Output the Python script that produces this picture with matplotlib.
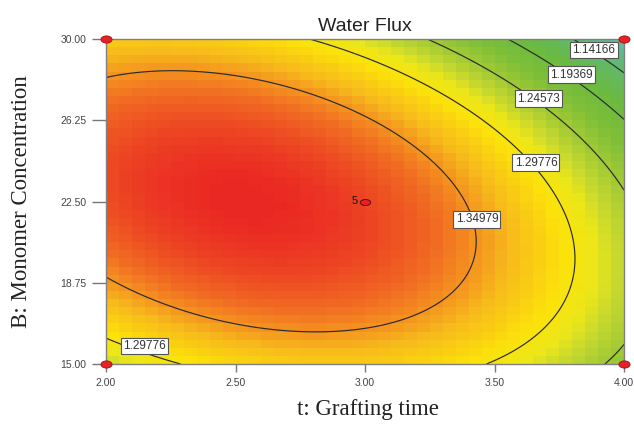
import numpy as np
import matplotlib
matplotlib.use("Agg")
import matplotlib.pyplot as plt
from matplotlib.colors import LinearSegmentedColormap
from matplotlib.path import Path
from matplotlib.transforms import Affine2D

# ---- data ----
title = "Water Flux"
x_label = "t: Grafting time"
y_label = "B: Monomer Concentration"
x_ticks = [2.00, 2.50, 3.00, 3.50, 4.00]
y_ticks = [15.00, 18.75, 22.50, 26.25, 30.00]
x_range = [2.0, 4.0]
y_range = [15.0, 30.0]
# quadratic response-surface coefficients (coded units: a=(t-3)/1, b=(B-22.5)/7.5)
# order: intercept, a, b, ab, a^2, b^2
coef = [1.38509, -0.06468, -0.02207, -0.04779, -0.06941, -0.08623]
contour_levels = [1.14166, 1.19369, 1.24573, 1.29776, 1.34979]
label_levels = [1.14166, 1.19369, 1.24573, 1.29776, 1.34979, 1.29776]
label_t = [3.884, 3.797, 3.668, 3.660, 3.432, 2.147]
label_B = [29.49, 28.36, 27.25, 24.30, 21.67, 15.83]
design_t = [2.0, 2.0, 4.0, 4.0]
design_B = [15.0, 30.0, 15.0, 30.0]
center_t = [3.0]
center_B = [22.5]
center_count = ["5"]

def model(t, B):
    a = (np.asarray(t) - 3.0) / 1.0
    b = (np.asarray(B) - 22.5) / 7.5
    return (coef[0] + coef[1]*a + coef[2]*b + coef[3]*a*b
            + coef[4]*a*a + coef[5]*b*b)

fig = plt.figure(figsize=(6.34, 4.25), dpi=100)
ax = fig.add_axes([106/634, 1-364/425, 518/634, 325/425])

# pixelated colour field
n = 40
te = np.linspace(x_range[0], x_range[1], n+1)
Be = np.linspace(y_range[0], y_range[1], n+1)
TC, BC = np.meshgrid((te[:-1]+te[1:])/2, (Be[:-1]+Be[1:])/2)
Zc = model(TC, BC)

anchors = [(1.09, (98, 190, 185)), (1.13, (95, 185, 120)), (1.18, (105, 185, 65)),
           (1.22, (128, 191, 55)), (1.25, (165, 203, 52)), (1.27, (200, 217, 46)),
           (1.285, (236, 230, 25)), (1.305, (252, 226, 10)), (1.335, (247, 185, 28)),
           (1.365, (241, 110, 34)), (1.40, (234, 40, 35))]
vmin, vmax = anchors[0][0], anchors[-1][0]
cmap = LinearSegmentedColormap.from_list(
    "dx", [((v-vmin)/(vmax-vmin), tuple(c/255 for c in col)) for v, col in anchors])
ax.pcolormesh(te, Be, Zc, cmap=cmap, vmin=vmin, vmax=vmax, shading='flat',
              rasterized=True, zorder=1)

# contour lines
tt, bb = np.meshgrid(np.linspace(x_range[0], x_range[1], 400),
                     np.linspace(y_range[0], y_range[1], 400))
ax.contour(tt, bb, model(tt, bb), levels=contour_levels, colors='#2b2b2b',
           linewidths=0.85, zorder=2)

# contour labels in white boxes
for lv, lt, lb in zip(label_levels, label_t, label_B):
    ax.text(lt, lb, f"{lv:.5f}", ha='center', va='center', fontsize=8.5,
            family='Liberation Sans', color='#333333', zorder=5,
            bbox=dict(boxstyle='square,pad=0.18', fc='white', ec='#555555', lw=0.8))

# design points
oval = Path(Affine2D().scale(1.0, 0.65).transform(Path.unit_circle().vertices),
            Path.unit_circle().codes)
ax.plot(design_t, design_B, linestyle='none', marker=oval, markersize=8,
        markerfacecolor='#e8202a', markeredgecolor='#9a1010', markeredgewidth=0.6,
        clip_on=False, zorder=10)
oval2 = Path(Affine2D().scale(1.0, 0.58).transform(Path.unit_circle().vertices),
             Path.unit_circle().codes)
ax.plot(center_t, center_B, linestyle='none', marker=oval2, markersize=7.5,
        markerfacecolor='#e8202a', markeredgecolor='#5a1010', markeredgewidth=0.7,
        zorder=10)
for ct, cb, cl in zip(center_t, center_B, center_count):
    ax.annotate(cl, (ct, cb), xytext=(-5.5, 0.5), textcoords='offset points',
                ha='right', va='center', fontsize=8, family='Liberation Sans',
                color='#111111', zorder=10)

ax.set_xlim(x_range)
ax.set_ylim(y_range)
ax.set_xticks(x_ticks)
ax.set_xticklabels([f"{v:.2f}" for v in x_ticks])
ax.set_yticks(y_ticks)
ax.set_yticklabels([f"{v:.2f}" for v in y_ticks])
for lab in ax.get_xticklabels() + ax.get_yticklabels():
    lab.set_family('Liberation Sans')
ax.tick_params(axis='x', direction='out', length=6, width=1, color='#777777',
               labelsize=7.5, labelcolor='#444444', pad=4)
ax.tick_params(axis='y', direction='out', length=10, width=1, color='#777777',
               labelsize=7.5, labelcolor='#444444', pad=4)
for sp in ax.spines.values():
    sp.set_color('#808080')
    sp.set_linewidth(1.0)
    sp.set_zorder(6)

ax.set_title(title, fontsize=14, family='Liberation Sans', color='#222222', pad=5.5)
fig.text(368/634, 1-410/425, x_label, ha='center', va='center', fontsize=16.5,
         family='Liberation Serif', color='#222222')
fig.text(22/634, 1-202/425, y_label, ha='center', va='center', rotation=90,
         fontsize=16.5, family='Liberation Serif', color='#222222')

fig.savefig("out.png", dpi=100)
